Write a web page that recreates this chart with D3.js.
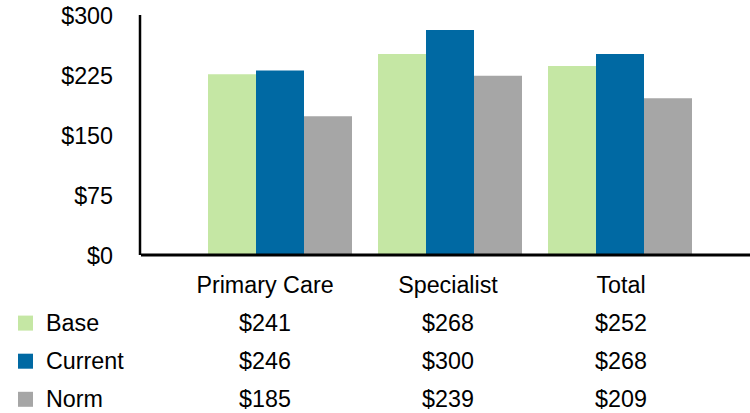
<!DOCTYPE html>
<html>
<head>
<meta charset="utf-8">
<script src="https://cdn.jsdelivr.net/npm/d3@7/dist/d3.min.js"></script>
<style>
  html, body { margin: 0; padding: 0; background: #fff; }
  svg { display: block; }
  text { font-family: "Liberation Sans", Arial, sans-serif; fill: #000; }
</style>
</head>
<body>
<svg id="chart" width="750" height="413"></svg>
<script>
// Chart data
const categories = ["Primary Care", "Specialist", "Total"];
const seriesNames = ["Base", "Current", "Norm"];
const baseValues = [241, 268, 252];
const currentValues = [246, 300, 268];
const normValues = [185, 239, 209];
const tickValues = [0, 80, 160, 240, 320];
const tickLabels = ["$0", "$75", "$150", "$225", "$300"];

const seriesValues = [baseValues, currentValues, normValues];
const colors = ["#C5E7A4", "#0069A3", "#A6A6A6"];

const W = 750, H = 413;
const fontSize = 23.3;
const svg = d3.select("#chart");

// Scales
const y = d3.scaleLinear().domain([0, 320]).range([255, 15]);
const x0 = d3.scaleBand().domain(categories).range([195, 705])
  .paddingInner(26 / 170).paddingOuter(13 / 170);
const x1 = d3.scaleBand().domain(seriesNames).range([0, x0.bandwidth()]);

// Bars
const rows = categories.map((c, i) => ({
  category: c,
  values: seriesNames.map((s, j) => ({ series: s, value: seriesValues[j][i], idx: j }))
}));

svg.append("g").selectAll("g").data(rows).join("g")
  .attr("transform", d => `translate(${x0(d.category)},0)`)
  .selectAll("rect").data(d => d.values).join("rect")
  .attr("x", d => x1(d.series))
  .attr("width", x1.bandwidth())
  .attr("y", d => y(d.value))
  .attr("height", d => y(0) - y(d.value))
  .attr("fill", d => colors[d.idx]);

// Y axis: labels only, with a plain line
const yAxis = d3.axisLeft(y).tickValues(tickValues)
  .tickFormat((d, i) => tickLabels[i]).tickSize(0).tickPadding(0);
const gy = svg.append("g").attr("transform", "translate(113,0)").call(yAxis);
gy.select(".domain").remove();
gy.selectAll("text")
  .attr("x", 0)
  .attr("dy", "0.35em")
  .style("font-size", fontSize + "px")
  .style("font-family", "'Liberation Sans', Arial, sans-serif")
  .attr("fill", "#000");

svg.append("line")
  .attr("x1", 140).attr("x2", 140)
  .attr("y1", y(320)).attr("y2", y(0))
  .attr("stroke", "#000").attr("stroke-width", 2.5);

svg.append("line")
  .attr("x1", 141).attr("x2", W)
  .attr("y1", 255).attr("y2", 255)
  .attr("stroke", "#000").attr("stroke-width", 3);

// Data table below the plot
const tableColX = [265, 448, 621];
const rowBase = 292.5, rowStep = 38.1;

svg.append("g").selectAll("text").data(categories).join("text")
  .attr("x", (d, i) => tableColX[i])
  .attr("y", rowBase)
  .attr("text-anchor", "middle")
  .style("font-size", fontSize + "px")
  .text(d => d);

const fmt = v => "$" + d3.format("d")(v);

seriesNames.forEach((s, j) => {
  const ry = rowBase + rowStep * (j + 1);
  const g = svg.append("g");
  g.append("rect")
    .attr("x", 18).attr("y", ry - 15)
    .attr("width", 15).attr("height", 15)
    .attr("fill", colors[j]);
  g.append("text")
    .attr("x", 46).attr("y", ry)
    .style("font-size", fontSize + "px")
    .text(s);
  g.selectAll("text.val").data(seriesValues[j]).join("text")
    .attr("class", "val")
    .attr("x", (d, i) => tableColX[i])
    .attr("y", ry)
    .attr("text-anchor", "middle")
    .style("font-size", fontSize + "px")
    .text(d => fmt(d));
});
</script>
</body>
</html>
